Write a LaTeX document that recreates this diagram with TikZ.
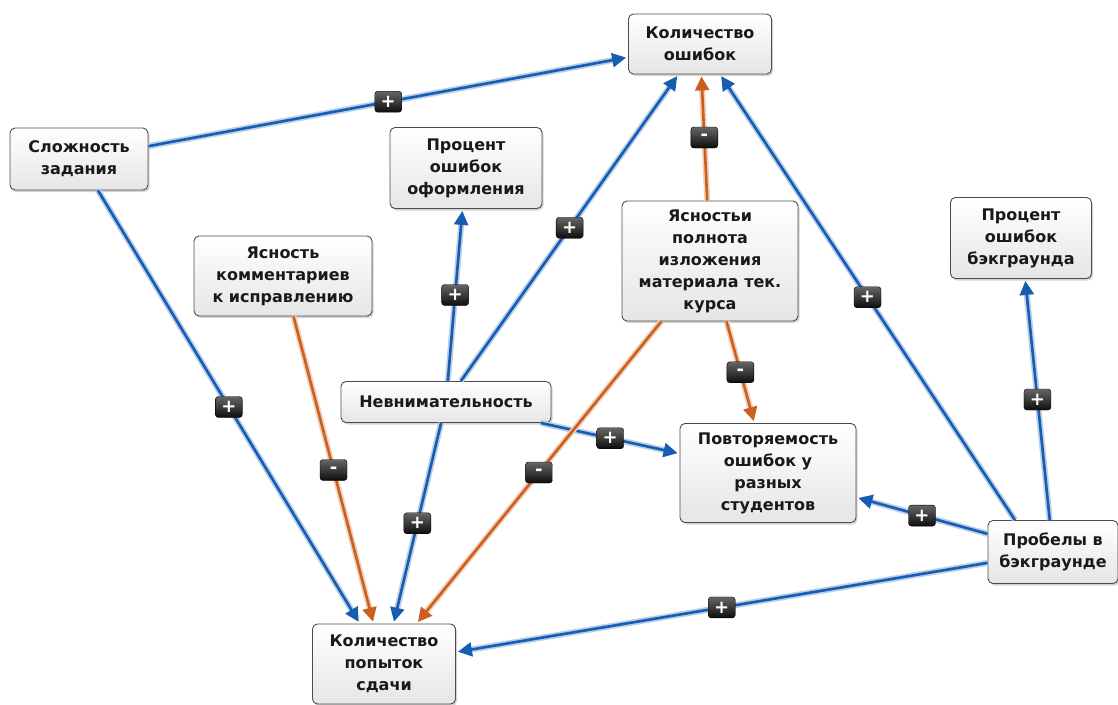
\documentclass[tikz,border=0pt]{standalone}
\usepackage{fontspec}
\setmainfont{DejaVu Sans}
\usetikzlibrary{arrows.meta,shadows}
\definecolor{bluec}{RGB}{22,92,178}
\definecolor{orangec}{RGB}{205,95,30}
\tikzset{
  box/.style={draw=black!70, line width=0.9pt, rounded corners=5pt,
    top color=white, bottom color=black!10,
    drop shadow={shadow xshift=1.5pt,shadow yshift=-2pt,opacity=0.35},
    align=center, font=\fontsize{16}{22}\selectfont\bfseries, text=black!90, inner sep=0pt},
  blueedge/.style={draw=bluec, line width=2.6pt, -{Triangle[length=14pt,width=14pt]}, shorten >=2pt,
    preaction={draw=bluec!30, line width=6pt, -, shorten >=10pt}},
  orangeedge/.style={draw=orangec, line width=2.6pt, -{Triangle[length=14pt,width=14pt]}, shorten >=2pt,
    preaction={draw=orangec!30, line width=6pt, -, shorten >=10pt}},
  sgn/.style={draw=black, line width=0.4pt, rounded corners=3pt, top color=black!60, bottom color=black!95,
    text=white, font=\fontsize{18}{18}\selectfont\bfseries, minimum width=27pt, minimum height=21pt, inner sep=0pt}
}
\begin{document}
\begin{tikzpicture}[x=1pt,y=-1pt]
\useasboundingbox (0,0) rectangle (1118,704);
\node[box, minimum width=143pt, minimum height=60pt] (ko) at (700,44) {Количество\\ошибок};
\node[box, minimum width=138pt, minimum height=62pt] (sl) at (79,159) {Сложность\\задания};
\node[box, minimum width=152pt, minimum height=81pt] (po) at (466,168) {Процент\\ошибок\\оформления};
\node[box, minimum width=178pt, minimum height=80pt] (yk) at (283,276) {Ясность\\комментариев\\к исправлению};
\node[box, minimum width=176pt, minimum height=120pt] (ya) at (710,261) {Ясностьи\\полнота\\изложения\\материала тек.\\курса};
\node[box, minimum width=141pt, minimum height=81pt] (pbk) at (1021,238) {Процент\\ошибок\\бэкграунда};
\node[box, minimum width=210pt, minimum height=41pt] (nv) at (446,402) {Невнимательность};
\node[box, minimum width=176pt, minimum height=99pt] (pv) at (768,473) {Повторяемость\\ошибок у\\разных\\студентов};
\node[box, minimum width=130pt, minimum height=63pt] (pb) at (1053,552) {Пробелы в\\бэкграунде};
\node[box, minimum width=143pt, minimum height=80pt] (kp) at (384,664) {Количество\\попыток\\сдачи};

\draw[blueedge] (sl) -- node[sgn]{+} (ko);
\draw[blueedge] (sl) -- node[sgn]{+} (kp);
\draw[orangeedge] (yk) -- node[sgn]{-} (kp);
\draw[blueedge] (nv) -- node[sgn]{+} (po);
\draw[blueedge] (nv) -- node[sgn]{+} (ko);
\draw[blueedge] (nv) -- node[sgn]{+} (kp);
\draw[blueedge] (nv) -- node[sgn]{+} (pv);
\draw[orangeedge] (ya) -- node[sgn]{-} (ko);
\draw[orangeedge] (ya) -- node[sgn]{-} (pv);
\draw[orangeedge] (ya) -- node[sgn]{-} (kp);
\draw[blueedge] ([xshift=-38pt]pb.north) -- node[sgn]{+} (ko);
\draw[blueedge] (pb) -- node[sgn]{+} (pbk);
\draw[blueedge] (pb) -- node[sgn]{+} (pv);
\draw[blueedge] (pb) -- node[sgn]{+} (kp);
\end{tikzpicture}
\end{document}
